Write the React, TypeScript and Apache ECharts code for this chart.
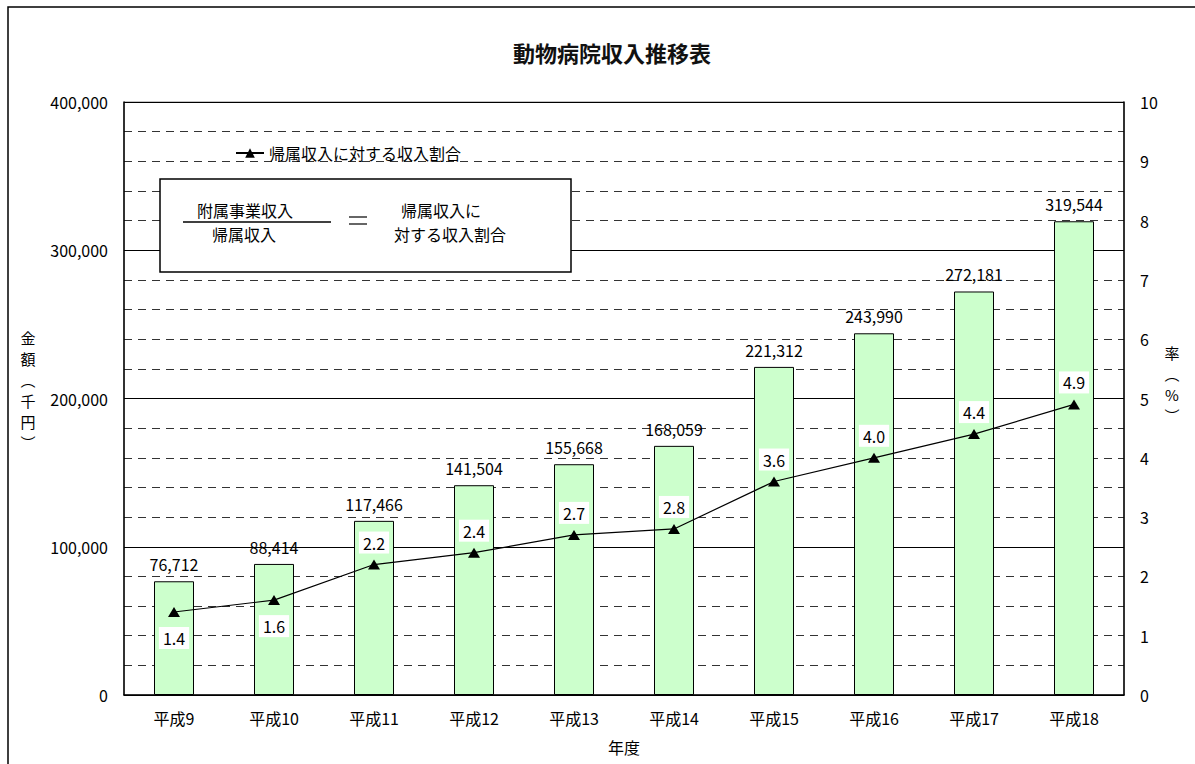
import React, { useEffect, useRef } from "react";
import * as echarts from "echarts";

const categories = ["平成9", "平成10", "平成11", "平成12", "平成13", "平成14", "平成15", "平成16", "平成17", "平成18"];
const income = [76712, 88414, 117466, 141504, 155668, 168059, 221312, 243990, 272181, 319544];
const rates = [1.4, 1.6, 2.2, 2.4, 2.7, 2.8, 3.6, 4.0, 4.4, 4.9];
const belowLabelIdx = [0, 1];
const title = "動物病院収入推移表";
const lineName = "帰属収入に対する収入割合";

const FONT = "'Noto Sans CJK JP', 'Noto Sans', sans-serif";

export default function App() {
  const ref = useRef<HTMLDivElement>(null);
  useEffect(() => {
    if (!ref.current) return;
    const chart = echarts.init(ref.current, null, { renderer: "svg" });
    const fmt = (v: number) => v.toLocaleString("en-US");
    chart.setOption({
      animation: false,
      backgroundColor: "#ffffff",
      textStyle: { fontFamily: FONT, color: "#000" },
      title: {
        text: title,
        left: 607,
        textAlign: "center",
        top: 36,
        textStyle: { fontSize: 22, fontWeight: "bold", color: "#111", fontFamily: FONT },
      },
      legend: {
        data: [lineName],
        left: 230,
        top: 140,
        itemWidth: 28,
        itemHeight: 12,
        textStyle: { fontSize: 16, color: "#000", fontFamily: FONT },
      },
      grid: {
        left: 124,
        right: 71,
        top: 102,
        bottom: 69,
        show: true,
        borderColor: "#888",
        borderWidth: 1,
        backgroundColor: "transparent",
      },
      xAxis: {
        type: "category",
        data: categories,
        name: "年度",
        nameLocation: "middle",
        nameGap: 44,
        nameTextStyle: { fontSize: 16, color: "#000", fontFamily: FONT },
        axisLine: { lineStyle: { color: "#000", width: 1.5 } },
        axisTick: { show: false },
        axisLabel: { fontSize: 16, color: "#000", margin: 15, fontFamily: FONT },
      },
      yAxis: [
        {
          type: "value",
          min: 0,
          max: 400000,
          interval: 100000,
          axisLine: { show: true, lineStyle: { color: "#000", width: 1.5 } },
          axisTick: { show: false },
          axisLabel: { fontSize: 16, color: "#000", margin: 16, formatter: (v: number) => fmt(v), fontFamily: FONT },
          splitLine: { show: true, lineStyle: { color: "#000", width: 1 } },
          minorTick: { show: false, splitNumber: 5 },
          minorSplitLine: { show: true, lineStyle: { color: "#333", width: 1, type: [8, 6] } },
        },
        {
          type: "value",
          min: 0,
          max: 10,
          interval: 1,
          axisLine: { show: true, lineStyle: { color: "#000", width: 1.5 } },
          axisTick: { show: false },
          axisLabel: { fontSize: 16, color: "#000", margin: 16, fontFamily: FONT },
          splitLine: { show: false },
        },
      ],
      series: [
        {
          name: "収入",
          type: "bar",
          data: income,
          barWidth: 40,
          itemStyle: { color: "#ccffcc", borderColor: "#000", borderWidth: 1 },
          label: {
            show: true,
            position: "top",
            distance: 9,
            fontSize: 16,
            color: "#000",
            fontFamily: FONT,
            formatter: (p: any) => fmt(p.value),
          },
          z: 2,
        },
        {
          name: lineName,
          type: "line",
          yAxisIndex: 1,
          data: rates.map((v, i) => ({
            value: v,
            label: belowLabelIdx.includes(i)
              ? { position: "bottom", distance: 10 }
              : { position: "top", distance: 6 },
          })),
          symbol: "triangle",
          symbolSize: [12, 10],
          itemStyle: { color: "#000" },
          lineStyle: { color: "#000", width: 1.2 },
          label: {
            show: true,
            fontSize: 16,
            color: "#000",
            fontFamily: FONT,
            backgroundColor: "#fff",
            padding: [3, 4],
            formatter: (p: any) => Number(p.value).toFixed(1),
          },
          z: 5,
        },
      ],
      graphic: [
        {
          type: "rect",
          shape: { x: 8, y: 7, width: 1400, height: 1000 },
          style: { fill: "none", stroke: "#000", lineWidth: 1.5 },
          silent: true,
          z: 100,
        },
        {
          type: "rect",
          shape: { x: 160, y: 179, width: 411, height: 93 },
          style: { fill: "#fff", stroke: "#000", lineWidth: 1.5 },
          z: 100,
        },
        {
          type: "text",
          x: 245,
          y: 210,
          style: { text: "附属事業収入", fontSize: 16, fill: "#000", align: "center", verticalAlign: "middle", fontFamily: FONT },
          z: 101,
        },
        {
          type: "line",
          shape: { x1: 183, y1: 222, x2: 331, y2: 222 },
          style: { stroke: "#000", lineWidth: 1.5 },
          z: 101,
        },
        {
          type: "text",
          x: 244,
          y: 234,
          style: { text: "帰属収入", fontSize: 16, fill: "#000", align: "center", verticalAlign: "middle", fontFamily: FONT },
          z: 101,
        },
        {
          type: "line",
          shape: { x1: 349, y1: 217, x2: 367, y2: 217 },
          style: { stroke: "#000", lineWidth: 1.2 },
          z: 101,
        },
        {
          type: "line",
          shape: { x1: 349, y1: 224, x2: 367, y2: 224 },
          style: { stroke: "#000", lineWidth: 1.2 },
          z: 101,
        },
        {
          type: "text",
          x: 401,
          y: 210,
          style: { text: "帰属収入に", fontSize: 16, fill: "#000", align: "left", verticalAlign: "middle", fontFamily: FONT },
          z: 101,
        },
        {
          type: "text",
          x: 394,
          y: 234,
          style: { text: "対する収入割合", fontSize: 16, fill: "#000", align: "left", verticalAlign: "middle", fontFamily: FONT },
          z: 101,
        },
        {
          type: "text",
          x: 28,
          y: 390,
          style: {
            text: "金\n額\n︵\n千\n円\n︶",
            fontSize: 15,
            lineHeight: 21,
            fill: "#000",
            align: "center",
            verticalAlign: "middle",
            fontFamily: FONT,
          },
          z: 101,
        },
        {
          type: "text",
          x: 1172,
          y: 384,
          style: {
            text: "率\n︵\n%\n︶",
            fontSize: 15,
            lineHeight: 21,
            fill: "#000",
            align: "center",
            verticalAlign: "middle",
            fontFamily: FONT,
          },
          z: 101,
        },
      ],
    });
    return () => chart.dispose();
  }, []);
  return (
    <div
      ref={ref}
      style={{ position: "absolute", left: 0, top: 0, width: 1195, height: 764 }}
    />
  );
}
